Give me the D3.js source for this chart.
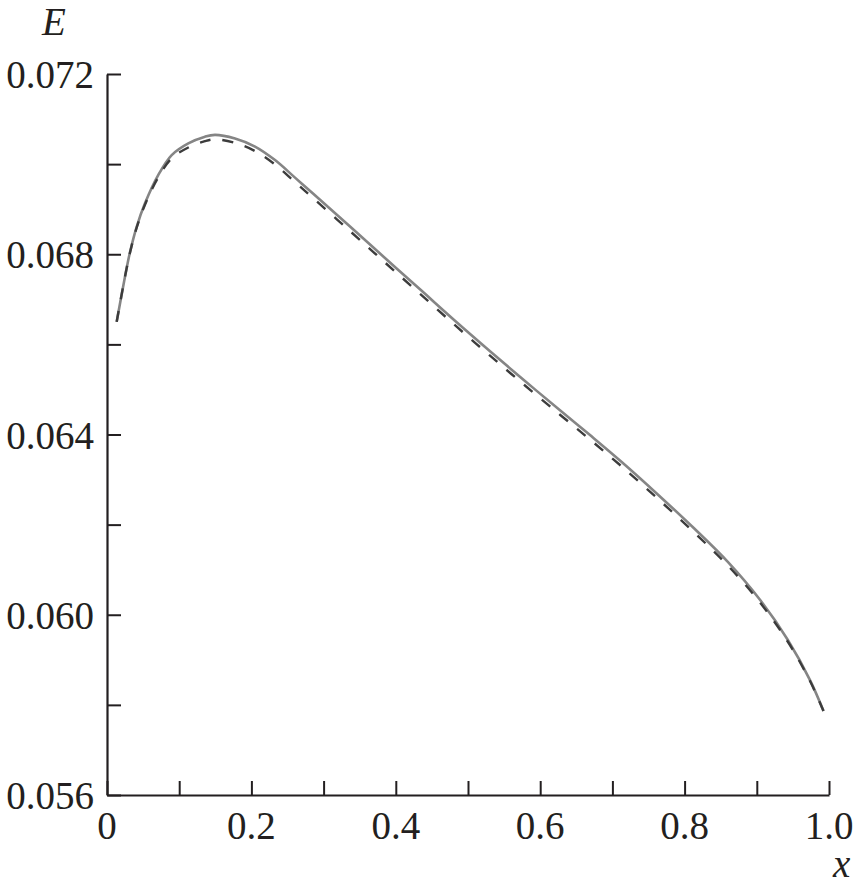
<!DOCTYPE html>
<html>
<head>
<meta charset="utf-8">
<script src="https://cdn.jsdelivr.net/npm/d3@7/dist/d3.min.js"></script>
<style>
  html, body { margin: 0; padding: 0; background: #fff; }
  svg { display: block; }
</style>
</head>
<body>
<svg id="chart" width="854" height="892"></svg>
<script>
// ---- data ----
const xSolid = [0.0134, 0.0249, 0.0319, 0.0411, 0.0526, 0.0711, 0.0896, 0.1126, 0.1357, 0.1496, 0.1773, 0.2050, 0.2327, 0.2604, 0.2857, 0.3366, 0.3850, 0.4335, 0.4843, 0.5305, 0.5789, 0.6274, 0.6690, 0.7129, 0.7636, 0.8134, 0.8605, 0.9044, 0.9428, 0.9737, 0.9924];
const eSolid = [0.06650, 0.06750, 0.06805, 0.06861, 0.06913, 0.06976, 0.07020, 0.07046, 0.07061, 0.07065, 0.07057, 0.07039, 0.07009, 0.06970, 0.069342, 0.068614, 0.067917, 0.067222, 0.066492, 0.065849, 0.065187, 0.064539, 0.063987, 0.063390, 0.062659, 0.061913, 0.061162, 0.060332, 0.059446, 0.058550, 0.057864];
const xDashed = [0.0134, 0.0249, 0.0319, 0.0411, 0.0526, 0.0711, 0.0896, 0.1126, 0.1357, 0.1496, 0.1773, 0.2050, 0.2327, 0.2604, 0.2857, 0.3366, 0.3850, 0.4335, 0.4843, 0.5305, 0.5789, 0.6274, 0.6690, 0.7129, 0.7636, 0.8134, 0.8605, 0.9044, 0.9428, 0.9737, 0.9924];
const eDashed = [0.06650, 0.06750, 0.06804, 0.06859, 0.06910, 0.06971, 0.07013, 0.07037, 0.07051, 0.07055, 0.07047, 0.07029, 0.06999, 0.06960, 0.069242, 0.068514, 0.067817, 0.067122, 0.066392, 0.065749, 0.065087, 0.064439, 0.063887, 0.063290, 0.062564, 0.061823, 0.061082, 0.060272, 0.059406, 0.058530, 0.057864];
const xTicks = [0, 0.1, 0.2, 0.3, 0.4, 0.5, 0.6, 0.7, 0.8, 0.9, 1.0];
const xTickLabels = ["0", "", "0.2", "", "0.4", "", "0.6", "", "0.8", "", "1.0"];
const yTicks = [0.056, 0.058, 0.060, 0.062, 0.064, 0.066, 0.068, 0.070, 0.072];
const yTickLabels = ["0.056", "", "0.060", "", "0.064", "", "0.068", "", "0.072"];
const xTitle = "x";
const yTitle = "E";

// ---- layout ----
const svg = d3.select("#chart");
const plotLeft = 107, plotRight = 829, plotTop = 74, plotBottom = 795;
const x = d3.scaleLinear().domain([0, 1.0]).range([plotLeft, plotRight]);
const y = d3.scaleLinear().domain([0.056, 0.072]).range([plotBottom, plotTop]);
const ink = "#231f20";
const font = "'Liberation Serif', 'Times New Roman', serif";

// axes
const xAxis = d3.axisBottom(x).tickValues(xTicks).tickSizeInner(-14).tickSizeOuter(0).tickFormat("");
const yAxis = d3.axisLeft(y).tickValues(yTicks).tickSizeInner(-14).tickSizeOuter(0).tickFormat("");

const gx = svg.append("g").attr("transform", `translate(0,${plotBottom})`).call(xAxis);
const gy = svg.append("g").attr("transform", `translate(${plotLeft},0)`).call(yAxis);
[gx, gy].forEach(g => {
  g.selectAll("path.domain").attr("stroke", ink).attr("stroke-width", 2.2);
  g.selectAll(".tick line").attr("stroke", ink).attr("stroke-width", 2);
});

// tick labels
svg.append("g").selectAll("text").data(xTicks.map((v, i) => ({v, t: xTickLabels[i]})).filter(d => d.t))
  .join("text")
  .attr("x", d => x(d.v))
  .attr("y", 839)
  .attr("text-anchor", "middle")
  .attr("font-family", font)
  .attr("font-size", 39)
  .attr("fill", ink)
  .text(d => d.t);

svg.append("g").selectAll("text").data(yTicks.map((v, i) => ({v, t: yTickLabels[i]})).filter(d => d.t))
  .join("text")
  .attr("x", 94)
  .attr("y", d => y(d.v) + 14)
  .attr("text-anchor", "end")
  .attr("font-family", font)
  .attr("font-size", 39)
  .attr("fill", ink)
  .text(d => d.t);

// axis titles
svg.append("text").attr("x", 42).attr("y", 35)
  .attr("font-family", font).attr("font-style", "italic").attr("font-size", 39)
  .attr("fill", ink).text(yTitle);
svg.append("text").attr("x", 833).attr("y", 877)
  .attr("font-family", font).attr("font-style", "italic").attr("font-size", 39)
  .attr("fill", ink).text(xTitle);

// curves
const line = d3.line().x(d => x(d[0])).y(d => y(d[1])).curve(d3.curveCatmullRom.alpha(0.5));

svg.append("path")
  .datum(xSolid.map((v, i) => [v, eSolid[i]]))
  .attr("d", line)
  .attr("fill", "none")
  .attr("stroke", "#858585")
  .attr("stroke-width", 2.6);

svg.append("path")
  .datum(xDashed.map((v, i) => [v, eDashed[i]]))
  .attr("d", line)
  .attr("fill", "none")
  .attr("stroke", "#3c3c3c")
  .attr("stroke-width", 2.4)
  .attr("stroke-dasharray", "11,12");
</script>
</body>
</html>
